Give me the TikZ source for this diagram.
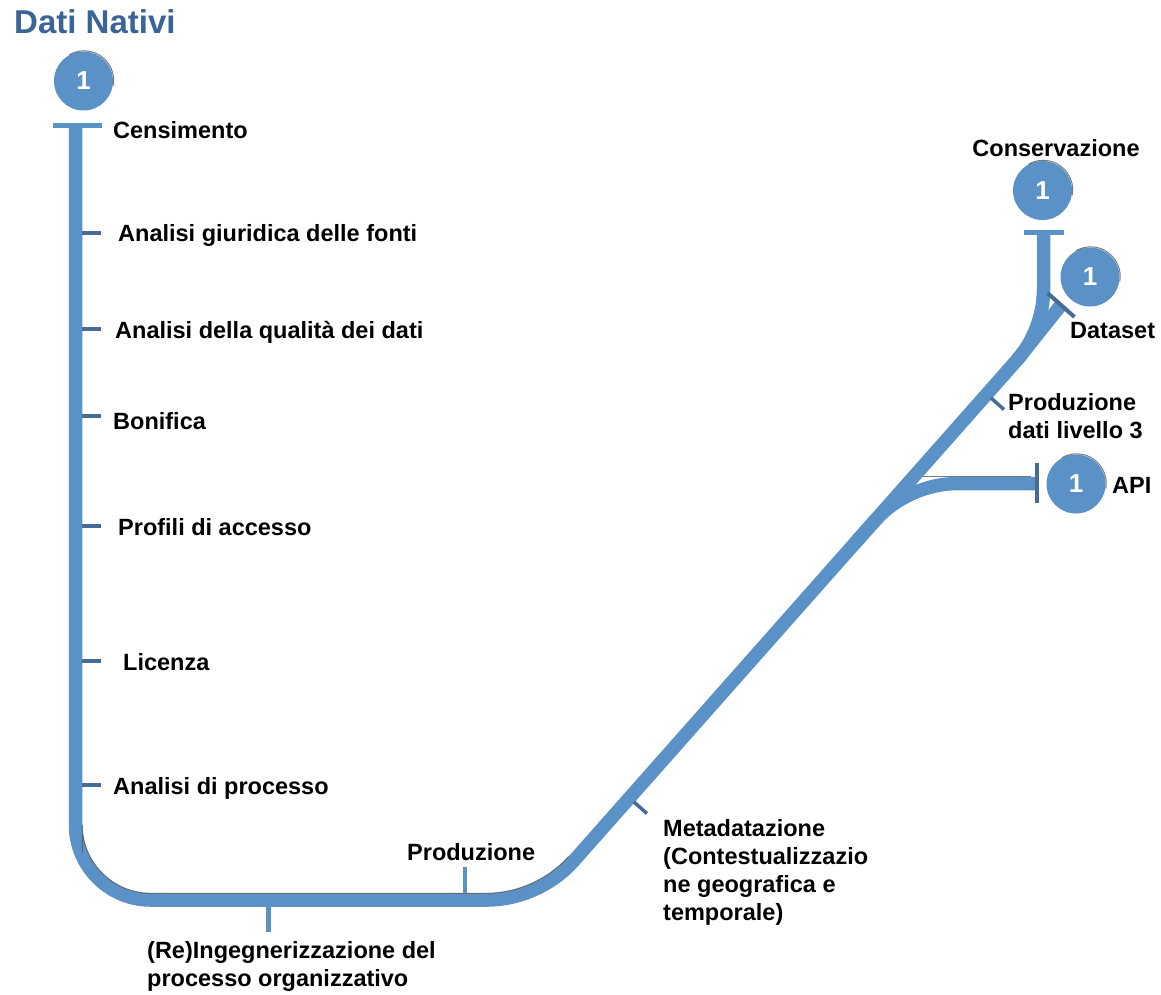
\documentclass[tikz,border=0pt]{standalone}
\usepackage{fontspec}
\setmainfont{Liberation Sans}
\usetikzlibrary{calc}

\definecolor{lineblue}{RGB}{90,146,200}
\definecolor{tickblue}{RGB}{70,108,150}
\definecolor{titleblue}{RGB}{58,100,150}

\begin{document}
\begin{tikzpicture}[x=1pt,y=1pt,
  track/.style={draw=lineblue, line width=13.5, line join=round},
  tickline/.style={draw=tickblue, line width=3.5},
  endbar/.style={draw=lineblue, line width=5},
  darkbar/.style={draw=tickblue, line width=4},
  shade/.style={draw=black!65, line width=1, opacity=0.8},
  station/.style={circle, fill=lineblue, minimum size=59, inner sep=0,
    text=white, font=\bfseries\fontsize{26}{26}\selectfont},
  lbl/.style={font=\bfseries\fontsize{23.5}{28}\selectfont, inner sep=0,
    text height=16.5, text depth=0, anchor=west},
  mlbl/.style={font=\bfseries\fontsize{23.5}{28}\selectfont, inner sep=0,
    anchor=north west, align=left},
]
\useasboundingbox (0,0) rectangle (1161,-994);

% title
\node[font=\bfseries\fontsize{33}{33}\selectfont, text=titleblue, inner sep=0,
  text height=23.5, text depth=0, anchor=west] (title) at (14,-22) {Dati Nativi};

% key points of the main line
\coordinate (start)  at (75.5,-125);
\coordinate (cBL)    at (75.5,-900);
\coordinate (b1)     at (75.5,-825);
\coordinate (b2)     at (150.5,-900);
\coordinate (cBR)    at (539,-900);
\coordinate (c1)     at (487,-900);
\coordinate (c2)     at (573.5,-861.1);
\coordinate (cTop)   at (1043.5,-330);
\coordinate (d1)     at (1017,-360);
\coordinate (d2)     at (1043.5,-290);
\coordinate (endTop) at (1043.5,-232);

% inner edge of the bottom corners (for the shading line)
\coordinate (iBL)  at (82.25,-893.25);
\coordinate (ib1)  at (82.25,-825);
\coordinate (ib2)  at (150.5,-893.25);
\coordinate (iBR)  at (535.9,-893.25);
\coordinate (ic1)  at (486.9,-893.25);
\coordinate (ic2)  at (568.4,-856.6);

% API branch points
\coordinate (aCorner) at (907.7,-483.5);
\coordinate (a1)      at (874.6,-521);
\coordinate (a2)      at (957.7,-483.5);
\coordinate (aEnd)    at (1035,-483.5);

% Dataset stub end
\coordinate (dsEnd) at (1061,-305);

% main line
\draw[track] (start) -- (b1)
  .. controls ($(b1)!0.55!(cBL)$) and ($(b2)!0.55!(cBL)$) .. (b2)
  -- (c1)
  .. controls ($(c1)!0.62!(cBR)$) and ($(c2)!0.62!(cBR)$) .. (c2)
  -- (d1)
  .. controls ($(d1)!0.62!(cTop)$) and ($(d2)!0.62!(cTop)$) .. (d2)
  -- (endTop);

% Dataset stub and API branch
\draw[track] (d1) -- (dsEnd);
\draw[track] ($(aCorner)!80pt!(cBR)$) -- (a1)
  .. controls ($(a1)!0.62!(aCorner)$) and ($(a2)!0.62!(aCorner)$) .. (a2)
  -- (aEnd);

% thin shading along inner edges
\draw[shade] ($(ib1)!0.4!(iBL)$) -- (ib1)
  .. controls ($(ib1)!0.55!(iBL)$) and ($(ib2)!0.55!(iBL)$) .. (ib2)
  -- (ic1)
  .. controls ($(ic1)!0.62!(iBR)$) and ($(ic2)!0.62!(iBR)$) .. (ic2);
\draw[shade] (923,-476.8) -- (1031,-476.8);

% end bars
\draw[endbar] (53,-125) -- (102,-125);
\draw[endbar] (1024,-232) -- (1064,-232);
\draw[darkbar] (1037,-463) -- (1037,-503);
\draw[darkbar] ($(dsEnd)+(-13.5,12)$) -- ($(dsEnd)+(13.5,-12)$);

% ticks along the vertical line
\foreach \yy in {233,329,416,526,661,785}
  \draw[tickline] (82,-\yy) -- (101,-\yy);

% ticks along the bottom and the diagonal
\draw[lineblue, line width=4] (465,-893) -- (465,-867);
\draw[lineblue, line width=5] (268,-906) -- (268,-932);
\draw[tickline] (634,-802) -- (647,-813.5);
\draw[tickline] (991,-398) -- (1004,-409.5);

% stations
\node[station] (s0) at (83.5,-81) {1};
\node[station] (s1) at (1042.5,-190.5) {1};
\node[station] (s2) at (1090,-277) {1};
\node[station] (s3) at (1076,-484) {1};
\foreach \s in {s0,s1,s2,s3}
  \draw[shade] ($(\s.center)+(0.6,0.6)$) ++(-10:29.6) arc[start angle=-10, end angle=120, radius=29.6];

% labels
\node[lbl] (l1) at (113,-130) {Censimento};
\node[lbl] (l2) at (118,-233) {Analisi giuridica delle fonti};
\node[lbl] (l3) at (115,-330) {Analisi della qualità dei dati};
\node[lbl] (l4) at (113,-421) {Bonifica};
\node[lbl] (l5) at (118,-527) {Profili di accesso};
\node[lbl] (l6) at (123,-662) {Licenza};
\node[lbl] (l7) at (113,-786) {Analisi di processo};
\node[lbl] (l8) at (407,-852) {Produzione};
\node[mlbl] (l9) at (147,-941.5) {(Re)Ingegnerizzazione del\\processo organizzativo};
\node[mlbl] (l10) at (663,-819.5) {Metadatazione\\(Contestualizzazio\\ne geografica e\\temporale)};
\node[mlbl] (l11) at (1008,-393.5) {Produzione\\dati livello 3};
\node[lbl] (l12) at (1112,-485) {API};
\node[lbl] (l13) at (1070,-330) {Dataset};
\node[lbl, anchor=center] (l14) at (1056,-148) {Conservazione};
\end{tikzpicture}
\end{document}
